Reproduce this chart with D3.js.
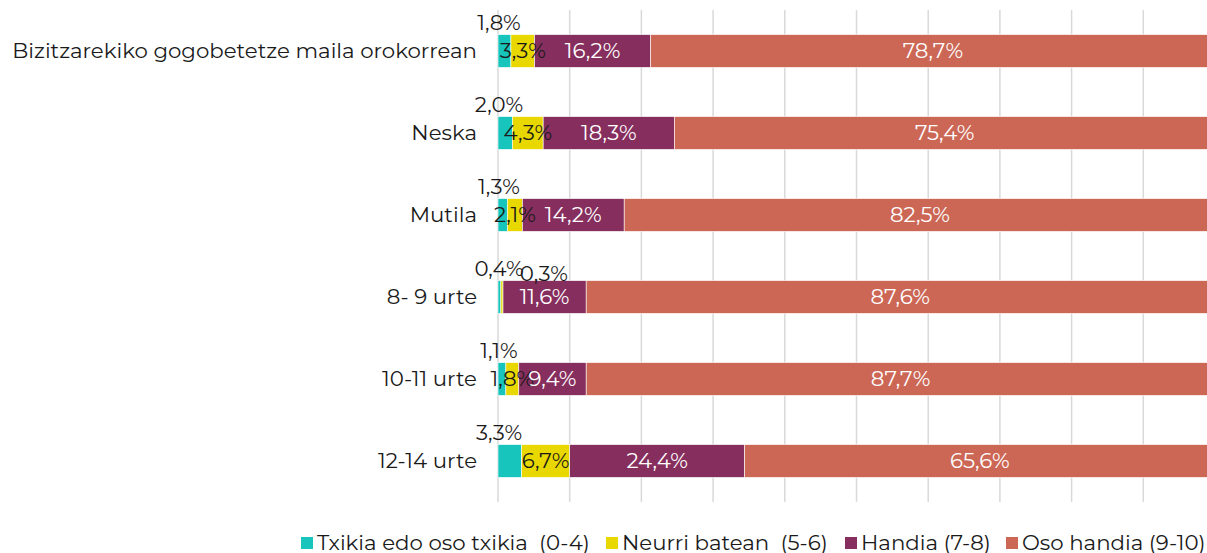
<!DOCTYPE html>
<html>
<head>
<meta charset="utf-8">
<script src="https://cdn.jsdelivr.net/npm/d3@7"></script>
<style>
  body { margin: 0; background: #fff; }
  svg text { font-family: "Montserrat", "DejaVu Sans", sans-serif; }
</style>
</head>
<body>
<div id="chart"></div>
<script>
var categories = [
  "Bizitzarekiko gogobetetze maila orokorrean",
  "Neska",
  "Mutila",
  "8- 9 urte",
  "10-11 urte",
  "12-14 urte"
];
var seriesNames = [
  "Txikia edo oso txikia  (0-4)",
  "Neurri batean  (5-6)",
  "Handia (7-8)",
  "Oso handia (9-10)"
];
var txikia = [1.8, 2.0, 1.3, 0.4, 1.1, 3.3];
var neurri = [3.3, 4.3, 2.1, 0.3, 1.8, 6.7];
var handia = [16.2, 18.3, 14.2, 11.6, 9.4, 24.4];
var osoHandia = [78.7, 75.4, 82.5, 87.6, 87.7, 65.6];
var xTicks = [0, 10, 20, 30, 40, 50, 60, 70, 80, 90, 100];

var colors = ["#17c5bc", "#e9d800", "#862e5d", "#cc6756"];
var labelColors = ["#1a1a1a", "#1a1a1a", "#ffffff", "#ffffff"];
var fontSize = 21.3;

var width = 1207, height = 553;
var margin = { top: 10, left: 498, right: -8, bottom: 51 };

var svg = d3.select("#chart").append("svg")
  .attr("width", width)
  .attr("height", height);

var rows = categories.map(function(c, i) {
  return { name: c, values: [txikia[i], neurri[i], handia[i], osoHandia[i]] };
});

var x = d3.scaleLinear()
  .domain([0, 100])
  .range([margin.left, width - margin.right]);

var y = d3.scaleBand()
  .domain(categories)
  .range([10, 502])
  .paddingInner(0.6)
  .paddingOuter(0.3);

// grid
svg.append("g")
  .selectAll("line")
  .data(xTicks)
  .enter().append("line")
  .attr("x1", function(d) { return x(d); })
  .attr("x2", function(d) { return x(d); })
  .attr("y1", 10)
  .attr("y2", 502)
  .attr("stroke", "#d9d9d9")
  .attr("stroke-width", 1.5);

// category labels
svg.append("g")
  .selectAll("text")
  .data(categories)
  .enter().append("text")
  .attr("x", margin.left - 21)
  .attr("y", function(d) { return y(d) + y.bandwidth() / 2; })
  .attr("dy", "0.35em")
  .attr("text-anchor", "end")
  .attr("font-size", fontSize)
  .attr("fill", "#1a1a1a")
  .text(function(d) { return d; });

// segments
var segs = [];
rows.forEach(function(r) {
  var acc = 0;
  r.values.forEach(function(v, s) {
    segs.push({ cat: r.name, s: s, v: v, x0: acc, x1: acc + v });
    acc += v;
  });
});

svg.append("g")
  .selectAll("rect")
  .data(segs)
  .enter().append("rect")
  .attr("x", function(d) { return x(d.x0); })
  .attr("y", function(d) { return y(d.cat); })
  .attr("width", function(d) { return x(d.x1) - x(d.x0); })
  .attr("height", y.bandwidth())
  .attr("fill", function(d) { return colors[d.s]; })
  .attr("stroke", "#fff")
  .attr("stroke-width", 0.6);

var fmt = function(v) { return d3.format(".1f")(v).replace(".", ",") + "%"; };

// value labels -- small slices go above the bar
svg.append("g")
  .selectAll("text")
  .data(segs)
  .enter().append("text")
  .attr("x", function(d) {
    if (d.s === 0) return x(0) + 1;
    if (d.v < 1) return x(d.x0) + 43;
    return (x(d.x0) + x(d.x1)) / 2;
  })
  .attr("y", function(d) {
    if (d.s === 0) return y(d.cat) - 12;
    if (d.v < 1) return y(d.cat) - 7;
    return y(d.cat) + y.bandwidth() / 2;
  })
  .attr("dy", "0.35em")
  .attr("text-anchor", "middle")
  .attr("font-size", fontSize)
  .attr("fill", function(d) {
    return (d.s === 0 || d.v < 1) ? "#1a1a1a" : labelColors[d.s];
  })
  .text(function(d) { return fmt(d.v); });

// legend
var legendX = [301, 606, 845, 1006];
var legend = svg.append("g")
  .selectAll("g")
  .data(seriesNames)
  .enter().append("g")
  .attr("transform", function(d, i) { return "translate(" + legendX[i] + ",543)"; });
legend.append("rect")
  .attr("x", 0)
  .attr("y", -6)
  .attr("width", 12)
  .attr("height", 12)
  .attr("fill", function(d, i) { return colors[i]; });
legend.append("text")
  .attr("x", 16)
  .attr("dy", "0.35em")
  .attr("font-size", fontSize)
  .attr("fill", "#1a1a1a")
  .attr("xml:space", "preserve")
  .style("white-space", "pre")
  .text(function(d) { return d; });
</script>
</body>
</html>
